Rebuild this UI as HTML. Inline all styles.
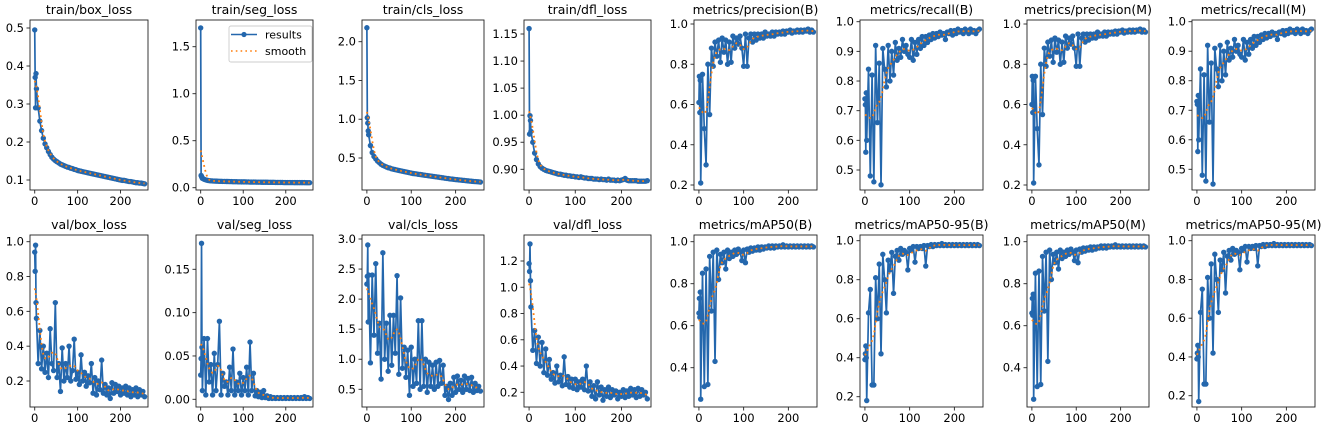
<!DOCTYPE html>
<html><head><meta charset="utf-8"><style>
html,body{margin:0;padding:0;background:#fff;}
svg{display:block;font-family:"DejaVu Sans","Liberation Sans",sans-serif;}
</style></head><body>
<svg id="fig" width="1325" height="427" viewBox="0 0 1325 427" xmlns="http://www.w3.org/2000/svg"></svg>
<script>
const epochs=[0,1,2,3,
4,8,12,16,20,24,28,32,
36,40,44,48,52,56,60,64,
68,72,76,80,84,88,92,96,
100,104,108,112,116,120,124,128,
132,136,140,144,148,152,156,160,
164,168,172,176,180,184,188,192,
196,200,204,208,212,216,220,224,
228,232,236,240,244,248,252,256];
const titles=["train/box_loss","train/seg_loss","train/cls_loss","train/dfl_loss","metrics/precision(B)","metrics/recall(B)","metrics/precision(M)","metrics/recall(M)","val/box_loss","val/seg_loss","val/cls_loss","val/dfl_loss","metrics/mAP50(B)","metrics/mAP50-95(B)","metrics/mAP50(M)","metrics/mAP50-95(M)"];
const trainBox=[0.495,0.37,0.29,0.38,
0.34,0.29,0.255,0.23,0.21,0.195,0.185,0.175,
0.167,0.16,0.155,0.151,0.148,0.145,0.142,0.14,
0.138,0.136,0.134,0.133,0.131,0.13,0.128,0.127,
0.125,0.124,0.123,0.122,0.121,0.12,0.119,0.118,
0.117,0.116,0.115,0.114,0.113,0.112,0.111,0.11,
0.109,0.108,0.107,0.106,0.105,0.104,0.103,0.102,
0.101,0.1,0.099,0.099,0.098,0.097,0.096,0.096,
0.095,0.094,0.093,0.093,0.092,0.092,0.091,0.09];
const trainSeg=[1.70,0.13,0.12,0.11,
0.10,0.09,0.083,0.078,0.075,0.073,0.072,0.071,
0.070,0.069,0.068,0.068,0.067,0.067,0.066,0.066,
0.065,0.065,0.064,0.064,0.064,0.063,0.063,0.062,
0.062,0.062,0.061,0.061,0.06,0.06,0.06,0.06,
0.059,0.059,0.059,0.058,0.058,0.058,0.058,0.057,
0.057,0.057,0.057,0.056,0.056,0.056,0.056,0.056,
0.055,0.055,0.055,0.055,0.055,0.055,0.054,0.054,
0.054,0.054,0.054,0.054,0.054,0.053,0.053,0.053];
const trainCls=[2.18,1.02,0.95,0.85,
0.8,0.66,0.57,0.52,0.49,0.46,0.44,0.42,
0.405,0.395,0.385,0.375,0.37,0.36,0.355,0.35,
0.345,0.34,0.335,0.33,0.325,0.32,0.315,0.31,
0.305,0.30,0.298,0.295,0.29,0.287,0.284,0.28,
0.277,0.274,0.27,0.267,0.264,0.26,0.257,0.254,
0.25,0.247,0.244,0.24,0.237,0.234,0.23,0.228,
0.225,0.222,0.22,0.217,0.215,0.212,0.21,0.207,
0.205,0.203,0.2,0.198,0.196,0.195,0.193,0.19];
const trainDfl=[1.16,0.965,0.999,0.99,
0.97,0.95,0.93,0.918,0.91,0.905,0.902,0.90,
0.898,0.897,0.896,0.895,0.894,0.893,0.892,0.891,
0.891,0.89,0.889,0.889,0.888,0.888,0.887,0.887,
0.886,0.886,0.885,0.886,0.885,0.884,0.884,0.883,
0.883,0.883,0.882,0.882,0.882,0.881,0.882,0.881,
0.881,0.88,0.882,0.88,0.88,0.88,0.879,0.88,
0.879,0.88,0.881,0.883,0.88,0.879,0.879,0.879,
0.879,0.879,0.878,0.878,0.878,0.878,0.878,0.879];
const precB=[0.61,0.74,0.56,0.72,
0.21,0.75,0.48,0.30,0.80,0.55,0.88,0.79,
0.91,0.84,0.92,0.81,0.93,0.86,0.92,0.80,
0.91,0.81,0.94,0.88,0.93,0.90,0.94,0.88,
0.79,0.95,0.79,0.93,0.95,0.91,0.95,0.92,
0.95,0.93,0.95,0.93,0.96,0.94,0.95,0.94,
0.96,0.94,0.96,0.95,0.96,0.95,0.965,0.95,
0.965,0.96,0.97,0.955,0.965,0.96,0.97,0.96,
0.97,0.96,0.97,0.965,0.975,0.96,0.97,0.96];
const recB=[0.74,0.72,0.56,0.76,
0.60,0.84,0.48,0.82,0.46,0.92,0.66,0.86,
0.45,0.91,0.84,0.78,0.92,0.80,0.90,0.82,
0.93,0.87,0.91,0.88,0.94,0.90,0.92,0.89,
0.88,0.94,0.87,0.93,0.89,0.94,0.91,0.95,
0.92,0.95,0.93,0.955,0.94,0.96,0.945,0.96,
0.95,0.965,0.955,0.96,0.94,0.965,0.96,0.97,
0.955,0.97,0.96,0.975,0.965,0.97,0.96,0.975,
0.97,0.96,0.975,0.965,0.97,0.96,0.97,0.975];
const precM=[0.60,0.74,0.56,0.72,
0.21,0.74,0.48,0.30,0.80,0.55,0.88,0.79,
0.91,0.84,0.92,0.81,0.93,0.86,0.92,0.80,
0.91,0.81,0.94,0.88,0.93,0.90,0.94,0.88,
0.79,0.95,0.79,0.93,0.95,0.91,0.95,0.92,
0.95,0.93,0.95,0.93,0.96,0.94,0.95,0.94,
0.96,0.94,0.96,0.95,0.96,0.95,0.965,0.95,
0.965,0.96,0.97,0.955,0.965,0.96,0.97,0.96,
0.97,0.96,0.97,0.965,0.975,0.96,0.97,0.96];
const recM=[0.73,0.72,0.56,0.75,
0.60,0.84,0.48,0.82,0.46,0.92,0.66,0.86,
0.45,0.91,0.84,0.78,0.92,0.80,0.90,0.82,
0.93,0.87,0.91,0.88,0.94,0.90,0.92,0.89,
0.88,0.94,0.87,0.93,0.89,0.94,0.91,0.95,
0.92,0.95,0.93,0.955,0.94,0.96,0.945,0.96,
0.95,0.965,0.955,0.96,0.94,0.965,0.96,0.97,
0.955,0.97,0.96,0.975,0.965,0.97,0.96,0.975,
0.97,0.96,0.975,0.965,0.97,0.96,0.97,0.975];
const valBox=[0.94,0.83,0.98,0.65,
0.56,0.30,0.49,0.27,0.40,0.25,0.36,0.22,
0.50,0.30,0.26,0.65,0.22,0.30,0.14,0.39,
0.20,0.30,0.22,0.40,0.20,0.26,0.44,0.21,
0.25,0.18,0.35,0.20,0.25,0.17,0.23,0.19,
0.30,0.13,0.22,0.12,0.20,0.15,0.32,0.13,
0.18,0.12,0.16,0.10,0.19,0.13,0.18,0.14,
0.17,0.12,0.16,0.13,0.17,0.12,0.16,0.11,
0.15,0.12,0.16,0.11,0.15,0.12,0.14,0.11];
const valSeg=[0.028,0.047,0.18,0.06,
0.01,0.07,0.005,0.07,0.02,0.04,0.005,0.053,
0.01,0.04,0.09,0.005,0.03,0.015,0.02,0.005,
0.037,0.01,0.058,0.005,0.02,0.01,0.03,0.005,
0.025,0.01,0.037,0.005,0.066,0.01,0.03,0.004,
0.01,0.003,0.008,0.002,0.01,0.002,0.004,0.001,
0.003,0.001,0.002,0.001,0.002,0.001,0.002,0.001,
0.002,0.001,0.002,0.001,0.002,0.001,0.002,0.001,
0.002,0.001,0.002,0.001,0.003,0.001,0.002,0.001];
const valCls=[2.25,2.38,2.90,1.62,
2.40,0.94,2.40,1.40,2.59,1.10,1.60,0.67,
2.77,1.00,1.60,0.80,1.73,0.90,1.73,1.10,
2.39,0.75,2.02,0.85,1.20,0.70,1.15,0.40,
1.20,0.55,1.00,0.60,1.64,0.50,1.64,0.55,
1.00,0.45,0.95,0.55,0.90,0.50,0.95,0.55,
0.98,0.60,0.90,0.40,0.55,0.33,0.60,0.40,
0.70,0.45,0.72,0.50,0.65,0.45,0.72,0.50,
0.68,0.48,0.70,0.45,0.60,0.48,0.55,0.47];
const valDfl=[1.18,1.12,1.33,1.05,
0.85,0.52,0.67,0.42,0.62,0.40,0.58,0.35,
0.53,0.33,0.45,0.30,0.35,0.27,0.40,0.28,
0.33,0.25,0.47,0.26,0.32,0.24,0.30,0.23,
0.30,0.22,0.28,0.24,0.30,0.22,0.40,0.21,
0.28,0.17,0.25,0.15,0.28,0.18,0.24,0.14,
0.22,0.17,0.24,0.16,0.22,0.18,0.21,0.15,
0.20,0.17,0.22,0.16,0.21,0.17,0.23,0.18,
0.22,0.16,0.23,0.17,0.22,0.18,0.20,0.15];
const map50B=[0.66,0.73,0.64,0.76,
0.25,0.85,0.31,0.87,0.32,0.93,0.67,0.95,
0.43,0.96,0.82,0.94,0.90,0.95,0.87,0.96,
0.92,0.95,0.93,0.96,0.94,0.965,0.95,0.91,
0.96,0.90,0.965,0.95,0.97,0.955,0.97,0.96,
0.975,0.96,0.975,0.965,0.975,0.97,0.98,0.97,
0.98,0.97,0.98,0.975,0.98,0.975,0.985,0.975,
0.98,0.975,0.98,0.975,0.98,0.975,0.98,0.975,
0.98,0.975,0.98,0.975,0.98,0.975,0.98,0.975];
const map5095B=[0.39,0.42,0.46,0.40,
0.18,0.63,0.75,0.26,0.26,0.81,0.60,0.88,
0.42,0.93,0.80,0.63,0.90,0.85,0.94,0.73,
0.92,0.95,0.90,0.96,0.93,0.95,0.94,0.85,
0.96,0.95,0.97,0.89,0.97,0.96,0.97,0.96,
0.975,0.87,0.975,0.97,0.98,0.97,0.98,0.975,
0.98,0.975,0.985,0.975,0.98,0.975,0.98,0.975,
0.98,0.975,0.98,0.975,0.98,0.975,0.98,0.975,
0.98,0.975,0.98,0.975,0.98,0.975,0.98,0.975];
const map50M=[0.66,0.73,0.65,0.75,
0.25,0.85,0.31,0.86,0.32,0.93,0.67,0.95,
0.43,0.96,0.82,0.94,0.90,0.95,0.87,0.96,
0.92,0.95,0.93,0.96,0.94,0.965,0.95,0.91,
0.96,0.90,0.965,0.95,0.97,0.955,0.97,0.96,
0.975,0.96,0.975,0.965,0.975,0.97,0.98,0.97,
0.98,0.97,0.98,0.975,0.98,0.975,0.985,0.975,
0.98,0.975,0.98,0.975,0.98,0.975,0.98,0.975,
0.98,0.975,0.98,0.975,0.98,0.975,0.98,0.975];
const map5095M=[0.39,0.42,0.46,0.40,
0.17,0.63,0.75,0.26,0.26,0.81,0.60,0.88,
0.42,0.93,0.80,0.63,0.90,0.85,0.94,0.73,
0.92,0.95,0.90,0.96,0.93,0.95,0.94,0.85,
0.96,0.95,0.97,0.89,0.97,0.96,0.97,0.96,
0.975,0.87,0.975,0.97,0.98,0.97,0.98,0.975,
0.98,0.975,0.985,0.975,0.98,0.975,0.98,0.975,
0.98,0.975,0.98,0.975,0.98,0.975,0.98,0.975,
0.98,0.975,0.98,0.975,0.98,0.975,0.98,0.975];
const seriesList=[trainBox,trainSeg,trainCls,trainDfl,precB,recB,precM,recM,valBox,valSeg,valCls,valDfl,map50B,map5095B,map50M,map5095M];
const yTicks=[[0.1,0.2,0.3,0.4,0.5],[0.0,0.5,1.0,1.5],[0.5,1.0,1.5,2.0],[0.90,0.95,1.00,1.05,1.10,1.15],[0.2,0.4,0.6,0.8,1.0],[0.5,0.6,0.7,0.8,0.9,1.0],[0.2,0.4,0.6,0.8,1.0],[0.5,0.6,0.7,0.8,0.9,1.0],[0.2,0.4,0.6,0.8,1.0],[0.00,0.05,0.10,0.15],[0.5,1.0,1.5,2.0,2.5,3.0],[0.2,0.4,0.6,0.8,1.0,1.2],[0.4,0.6,0.8,1.0],[0.2,0.4,0.6,0.8,1.0],[0.4,0.6,0.8,1.0],[0.2,0.4,0.6,0.8,1.0]];
const yTickDecimals=[1,1,1,2,1,1,1,1,1,2,1,1,1,1,1,1];
const xTicks=[0,100,200];

// layout (pixel geometry, not data)
const colX=[[30,148],[196,313],[362,484],[524,651],[694,817],[860,983],[1027,1149],[1192,1315]];
const rowY=[[20,190],[235,407]];
const yCal=[[0.5,28,0.1,180],[1.5,46.7,0,187.7],[2.0,41.7,0.5,158],[1.15,34,0.90,169.3],[1.0,24,0.2,185],[1.0,21.7,0.5,170],[1.0,24,0.2,185],[1.0,21.7,0.5,169.3],
[1.0,241.7,0.2,381],[0.15,269.3,0,399.3],[3.0,239,0.5,389.3],[1.2,261,0.2,392.3],[1.0,241.7,0.4,367.7],[1.0,240.7,0.2,396.7],[1.0,241.7,0.4,367.7],[1.0,240.7,0.2,395.7]];

const NS="http://www.w3.org/2000/svg";
const svg=document.getElementById('fig');
function mk(tag,attrs,parent){const e=document.createElementNS(NS,tag);for(const k in attrs)e.setAttribute(k,attrs[k]);(parent||svg).appendChild(e);return e;}
function smooth(vals){
  const sig=7;return vals.map((v,i)=>{let s=0,w=0;for(let j=0;j<vals.length;j++){const d=epochs[j]-epochs[i];const ww=Math.exp(-d*d/(2*sig*sig));s+=ww*vals[j];w+=ww;}return s/w;});
}
const BLUE="#2467ad",ORANGE="#ff7f0e";
for(let p=0;p<16;p++){
  const r=Math.floor(p/8),c=p%8;
  const [x0,x1]=colX[c],[y0,y1]=rowY[r];
  const g=mk('g',{});
  
  
  const xs=v=>x0+(v+11)/(275)*(x1-x0);
  const [va,pa,vb,pb]=yCal[p];
  const ys=v=>pa+(v-va)*(pb-pa)/(vb-va);
  const t=mk('text',{x:(x0+x1)/2,y:y0-6,'text-anchor':'middle','font-size':'12.5',fill:'#000'},g);t.textContent=titles[p];
  
  
  const clipId='clip'+p;
  const cp=mk('clipPath',{id:clipId},g);mk('rect',{x:x0,y:y0,width:x1-x0,height:y1-y0},cp);
  const vals=seriesList[p];
  const n=Math.min(vals.length,epochs.length);
  const plot=mk('g',{'clip-path':'url(#'+clipId+')'},g);
  const pts=[];for(let i=0;i<n;i++)pts.push(xs(epochs[i]).toFixed(2)+','+ys(vals[i]).toFixed(2));
  const line=mk('polyline',{points:pts.join(' '),fill:'none',stroke:BLUE,'stroke-width':1.7,'stroke-linejoin':'round'},plot);
  
  
  for(let i=0;i<n;i++){const m=mk('circle',{cx:xs(epochs[i]).toFixed(2),cy:ys(vals[i]).toFixed(2),r:2.7,fill:BLUE},plot);
    
    }
  const sm=smooth(vals.slice(0,n));
  const sl=mk('polyline',{points:sm.map((v,i)=>xs(epochs[i]).toFixed(2)+','+ys(v).toFixed(2)).join(' '),fill:'none',stroke:ORANGE,'stroke-width':1.8,'stroke-dasharray':'1.8 3.2'},plot);
  
  
  const fr=mk('rect',{x:x0,y:y0,width:x1-x0,height:y1-y0,fill:'none',stroke:'#222','stroke-width':0.9},g);
  
  
  xTicks.forEach(v=>{const X=xs(v);mk('line',{x1:X,x2:X,y1:y1,y2:y1+3.5,stroke:'#222','stroke-width':0.9},g);
    const tl=mk('text',{x:X,y:y1+15,'text-anchor':'middle','font-size':'11.5',fill:'#000'},g);tl.textContent=v;
    
    });
  yTicks[p].forEach(v=>{const Y=ys(v);mk('line',{x1:x0-3.5,x2:x0,y1:Y,y2:Y,stroke:'#222','stroke-width':0.9},g);
    const tl=mk('text',{x:x0-6,y:Y+4,'text-anchor':'end','font-size':'11.5',fill:'#000'},g);tl.textContent=v.toFixed(yTickDecimals[p]);
    
    });
  if(p===1){
    const lg=mk('g',{},g);
    
    
    mk('rect',{x:229,y:26,width:83,height:36,rx:2,fill:'#fff',stroke:'#ccc','stroke-width':0.9},lg);
    mk('line',{x1:231,x2:257,y1:34.5,y2:34.5,stroke:BLUE,'stroke-width':1.6},lg);
    mk('circle',{cx:244,cy:34.5,r:2.6,fill:BLUE},lg);
    const a=mk('text',{x:265,y:38.5,'font-size':'11',fill:'#000'},lg);a.textContent='results';
    
    
    mk('line',{x1:231,x2:257,y1:51,y2:51,stroke:ORANGE,'stroke-width':1.6,'stroke-dasharray':'1.6 3.2'},lg);
    const b=mk('text',{x:265,y:55,'font-size':'11',fill:'#000'},lg);b.textContent='smooth';
    
    
  }
}
</script>
</body></html>
